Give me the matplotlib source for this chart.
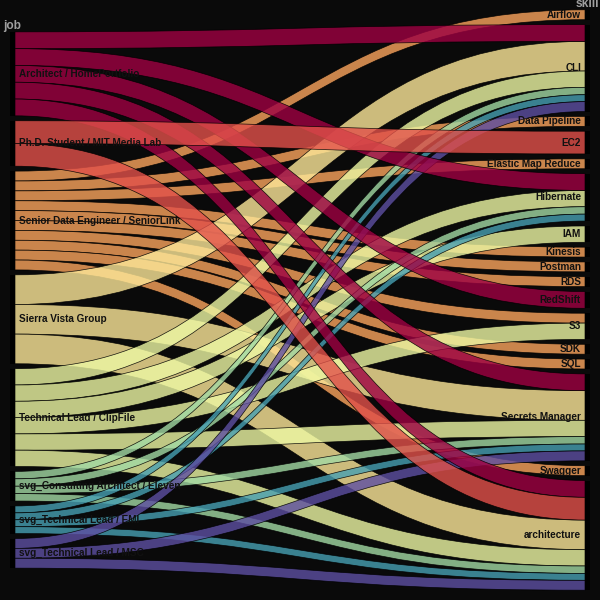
import matplotlib
matplotlib.use("Agg")
import matplotlib.pyplot as plt
from matplotlib.path import Path
from matplotlib.patches import PathPatch, Rectangle
import numpy as np

# ---------------- data ----------------
jobs = ['Architect / HomePortfolio', 'Ph.D. Student / MIT Media Lab',
        'Senior Data Engineer / SeniorLink', 'Sierra Vista Group',
        'Technical Lead / ClipFile', 'svg_Consulting Architect / Eleven',
        'svg_Technical Lead / EMI', 'svg_Technical Lead / MSC']
skills = ['Airflow', 'CLI', 'Data Pipeline', 'EC2', 'Elastic Map Reduce',
          'Hibernate', 'IAM', 'Kinesis', 'Postman', 'RDS', 'RedShift', 'S3',
          'SDK', 'SQL', 'Secrets Manager', 'Swagger', 'architecture']

job_skills = {
    'Architect / HomePortfolio': ['CLI', 'Hibernate', 'RedShift', 'Secrets Manager', 'architecture'],
    'Ph.D. Student / MIT Media Lab': ['EC2', 'architecture'],
    'Senior Data Engineer / SeniorLink': ['Airflow', 'Data Pipeline', 'Elastic Map Reduce', 'Kinesis',
                                          'Postman', 'RDS', 'S3', 'SDK', 'SQL', 'Swagger'],
    'Sierra Vista Group': ['CLI', 'Secrets Manager', 'architecture'],
    'Technical Lead / ClipFile': ['CLI', 'Hibernate', 'IAM', 'S3', 'Secrets Manager', 'architecture'],
    'svg_Consulting Architect / Eleven': ['CLI', 'Hibernate', 'Secrets Manager', 'architecture'],
    'svg_Technical Lead / EMI': ['CLI', 'Hibernate', 'Secrets Manager', 'architecture'],
    'svg_Technical Lead / MSC': ['CLI', 'Secrets Manager', 'architecture'],
}
job_weight = [17, 23, 10, 30, 16.5, 7.5, 7, 10]
dim_labels = ['job', 'skill']

# ---------------- layout ----------------
BG = '#0a0a0a'
W = H = 600
xL0, xL1 = 10, 15
xR0, xR1 = 585, 590
gap = 4.9
span_px = 502.0
center = 300.0

links = []
for j, job in enumerate(jobs):
    for s in job_skills[job]:
        links.append((j, skills.index(s), job_weight[j]))
total = sum(v for _, _, v in links)
scale = span_px / total

def cat_positions(ncat, sums):
    full = sum(sums) * scale + gap * (ncat - 1)
    y = center - full / 2
    tops = []
    for v in sums:
        tops.append(y)
        y += v * scale + gap
    return tops

job_sum = [sum(v for j, s, v in links if j == k) for k in range(len(jobs))]
skill_sum = [sum(v for j, s, v in links if s == k) for k in range(len(skills))]
job_top = cat_positions(len(jobs), job_sum)
skill_top = cat_positions(len(skills), skill_sum)

# left positions: within job, ordered by skill; right: within skill ordered by job
left_y = {}
for k in range(len(jobs)):
    y = job_top[k]
    for (j, s, v) in sorted([l for l in links if l[0] == k], key=lambda l: l[1]):
        left_y[(j, s)] = y
        y += v * scale
right_y = {}
for k in range(len(skills)):
    y = skill_top[k]
    for (j, s, v) in sorted([l for l in links if l[1] == k], key=lambda l: l[0]):
        right_y[(j, s)] = y
        y += v * scale

cmap = plt.get_cmap('Spectral')
colors = [cmap(k / (len(jobs) - 1)) for k in range(len(jobs))]

fig = plt.figure(figsize=(6, 6), dpi=100, facecolor=BG)
ax = fig.add_axes([0, 0, 1, 1])
ax.set_facecolor(BG)
ax.set_xlim(0, W)
ax.set_ylim(H, 0)
ax.axis('off')

draw_order = [2, 3, 4, 5, 6, 7, 0, 1]
xm = (xL1 + xR0) / 2
for k in draw_order:
    for (j, s, v) in [l for l in links if l[0] == k]:
        yl = left_y[(j, s)]
        yr = right_y[(j, s)]
        h = v * scale
        verts = [(xL1, yl), (xm, yl), (xm, yr), (xR0, yr),
                 (xR0, yr + h),
                 (xm, yr + h), (xm, yl + h), (xL1, yl + h),
                 (xL1, yl)]
        codes = [Path.MOVETO, Path.CURVE4, Path.CURVE4, Path.CURVE4,
                 Path.LINETO,
                 Path.CURVE4, Path.CURVE4, Path.CURVE4,
                 Path.CLOSEPOLY]
        c = colors[j]
        ax.add_patch(PathPatch(Path(verts, codes), facecolor=(c[0], c[1], c[2], 0.8),
                               edgecolor=(0, 0, 0, 0.9), linewidth=0.5))

# category bars
for k in range(len(jobs)):
    ax.add_patch(Rectangle((xL0, job_top[k]), xL1 - xL0, job_sum[k] * scale,
                           facecolor='#000000', edgecolor='none'))
for k in range(len(skills)):
    ax.add_patch(Rectangle((xR0, skill_top[k]), xR1 - xR0, skill_sum[k] * scale,
                           facecolor='#000000', edgecolor='none'))

font = 'Liberation Sans'
for k, name in enumerate(jobs):
    ax.text(19, job_top[k] + job_sum[k] * scale / 2, name, ha='left', va='center',
            fontsize=7.2, fontweight='bold', color='#111111', family=font)
for k, name in enumerate(skills):
    ax.text(581, skill_top[k] + skill_sum[k] * scale / 2, name, ha='right', va='center',
            fontsize=7.2, fontweight='bold', color='#111111', family=font)

ax.text((xL0 + xL1) / 2, job_top[0] - 3, dim_labels[0], ha='center', va='baseline',
        fontsize=8.6, fontweight='bold', color='#a0a0a0', family=font)
ax.text((xR0 + xR1) / 2, skill_top[0] - 3, dim_labels[1], ha='center', va='baseline',
        fontsize=8.6, fontweight='bold', color='#a0a0a0', family=font)

fig.savefig('out.png', dpi=100, facecolor=BG)
